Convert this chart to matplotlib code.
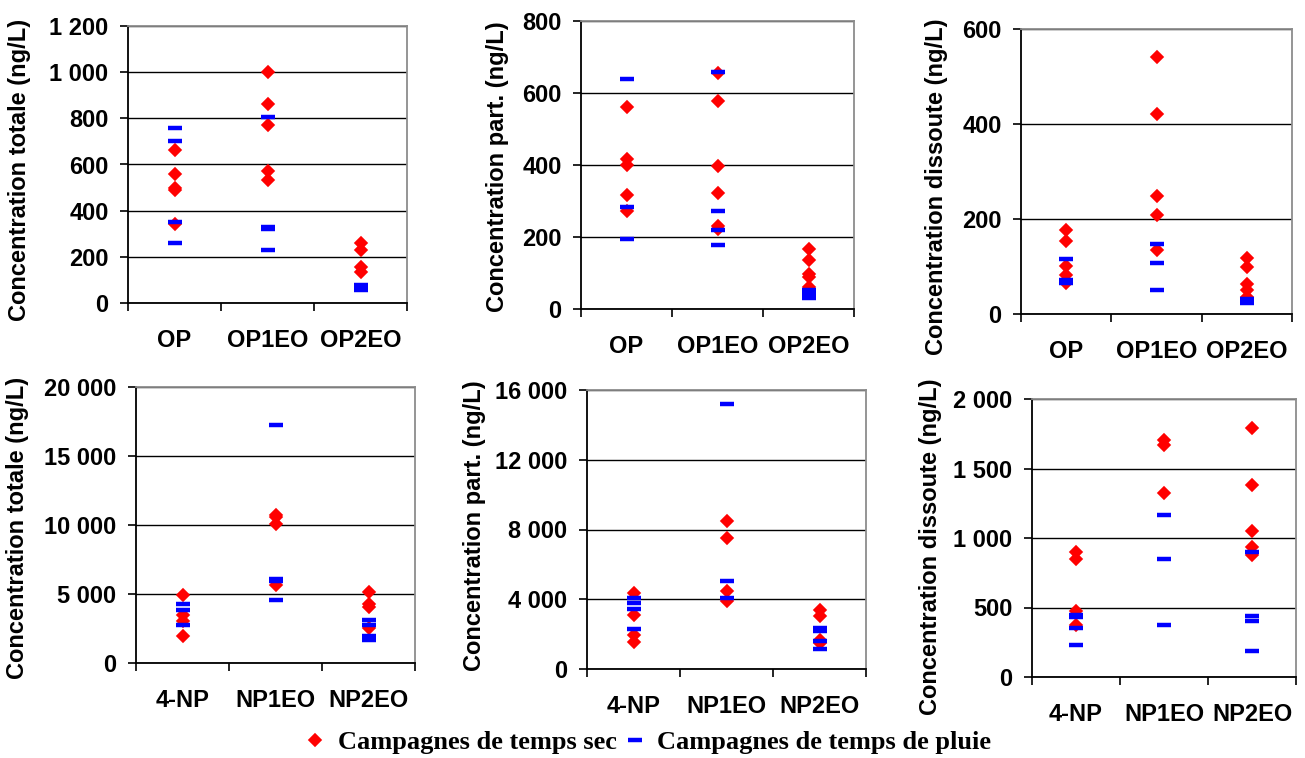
import matplotlib
matplotlib.use("Agg")
import matplotlib.pyplot as plt
from matplotlib.lines import Line2D
from matplotlib.ticker import FuncFormatter, MultipleLocator

# ---------------- data ----------------
cats_op = ["OP", "OP1EO", "OP2EO"]
cats_np = ["4-NP", "NP1EO", "NP2EO"]

# top row: octylphenols
tot_op_dry = [[664, 557, 500, 490, 341], [1000, 864, 772, 573, 532], [259, 230, 158, 133]]
tot_op_rain = [[760, 703, 350, 261], [804, 328, 320, 229], [79, 72, 58]]

part_op_dry = [[561, 416, 400, 316, 273], [655, 577, 397, 323, 230, 221], [168, 136, 97, 89, 61]]
part_op_rain = [[640, 283, 194], [659, 273, 220, 177], [54, 43, 31]]

diss_op_dry = [[177, 154, 101, 82, 65], [541, 422, 248, 209, 134], [118, 98, 63, 50, 35]]
diss_op_rain = [[116, 71, 65], [147, 108, 51], [32, 29, 24]]

# bottom row: nonylphenols
tot_np_dry = [[4903, 3502, 3019, 1981], [10700, 10555, 10097, 5676], [5145, 4300, 4058, 2512]]
tot_np_rain = [[4300, 3816, 2754], [17246, 6111, 5966, 4541], [3092, 2729, 1932, 1691]]

part_np_dry = [[4339, 3097, 1950, 1567], [8487, 7513, 4454, 3919], [3384, 3059, 1663, 1472]]
part_np_rain = [[4053, 3766, 3441, 2275], [15216, 5047, 4053], [2370, 2179, 1625, 1128]]

diss_np_dry = [[901, 848, 477, 374], [1703, 1667, 1327], [1789, 1380, 1052, 937, 877]]
diss_np_rain = [[446, 431, 354, 228], [1164, 848, 374], [901, 438, 405, 189]]

ylabels = ["Concentration totale (ng/L)", "Concentration part. (ng/L)",
           "Concentration dissoute (ng/L)"]
legend_labels = ["Campagnes de temps sec", "Campagnes de temps de pluie"]

# ---------------- layout ----------------
W, H = 1305, 758
fig = plt.figure(figsize=(W / 100, H / 100), dpi=100)

SANS = "Liberation Sans"
RED = "#FF0000"
BLUE = "#0000FF"
D_MS, D_MEW = 6.5, 1.2
B_MS, B_MEW = 9.5, 3.2


def box(l, r, t, b):
    return [l / W, 1 - b / H, (r - l) / W, (b - t) / H]


def fmt(v, pos):
    return f"{int(round(v)):,}".replace(",", " ")


panels = [
    (box(128, 407, 26, 303), cats_op, tot_op_dry, tot_op_rain, 1200, 200, ylabels[0], (20, 170)),
    (box(581, 854, 21, 309), cats_op, part_op_dry, part_op_rain, 800, 200, ylabels[1], (497, 167)),
    (box(1021, 1292, 29, 314), cats_op, diss_op_dry, diss_op_rain, 600, 200, ylabels[2], (936, 187)),
    (box(136, 415, 387, 663), cats_np, tot_np_dry, tot_np_rain, 20000, 5000, ylabels[0], (18, 528)),
    (box(587, 866, 390, 669), cats_np, part_np_dry, part_np_rain, 16000, 4000, ylabels[1], (475, 526)),
    (box(1032, 1296, 399, 677), cats_np, diss_np_dry, diss_np_rain, 2000, 500, ylabels[2], (931, 547)),
]

for rect, cats, dry, rain, ymax, ystep, ylab, (lx, ly) in panels:
    ax = fig.add_axes(rect)
    for i, vals in enumerate(dry):
        ax.plot([i + 1] * len(vals), vals, linestyle="none", marker="D",
                ms=D_MS, mfc=RED, mec=RED, mew=D_MEW, zorder=3)
    for i, vals in enumerate(rain):
        ax.plot([i + 1] * len(vals), vals, linestyle="none", marker="_",
                ms=B_MS, mec=BLUE, mew=B_MEW, zorder=4)
    ax.set_xlim(0.5, 3.5)
    ax.set_ylim(0, ymax)
    ax.yaxis.set_major_locator(MultipleLocator(ystep))
    ax.yaxis.set_major_formatter(FuncFormatter(fmt))
    ax.grid(axis="y", color="black", linewidth=1.0)
    ax.set_axisbelow(True)
    ax.set_xticks([1, 2, 3])
    ax.set_xticklabels(cats)
    ax.set_xticks([0.5, 1.5, 2.5, 3.5], minor=True)
    ax.tick_params(axis="x", which="major", length=0, pad=19)
    ax.tick_params(axis="x", which="minor", length=6, width=1.2, color="black", direction="out")
    ax.tick_params(axis="y", length=6, width=1.2, direction="out", pad=8)
    for lab in ax.get_xticklabels() + ax.get_yticklabels():
        lab.set_fontfamily(SANS)
        lab.set_fontweight("bold")
        lab.set_fontsize(17)
    for side in ("left", "bottom"):
        ax.spines[side].set_color("black")
        ax.spines[side].set_linewidth(1.3)
    for side in ("top", "right"):
        ax.spines[side].set_color("#8c8c8c")
        ax.spines[side].set_linewidth(1.3)
    fig.text(lx / W, 1 - ly / H, ylab, rotation=90, ha="center", va="center",
             fontfamily=SANS, fontweight="bold", fontsize=17)

handles = [
    Line2D([], [], linestyle="none", marker="D", ms=D_MS, mfc=RED, mec=RED, mew=D_MEW),
    Line2D([], [], linestyle="none", marker="_", ms=B_MS, mec=BLUE, mew=B_MEW),
]
fig.legend(handles, legend_labels, ncol=2, loc="center",
           bbox_to_anchor=(648 / W, 1 - 742 / H), frameon=False,
           handlelength=0.8, handletextpad=0.45, columnspacing=0.3,
           prop={"family": "Liberation Serif", "weight": "bold", "size": 19},
           borderpad=0, borderaxespad=0)

fig.savefig("out.png", dpi=100)
